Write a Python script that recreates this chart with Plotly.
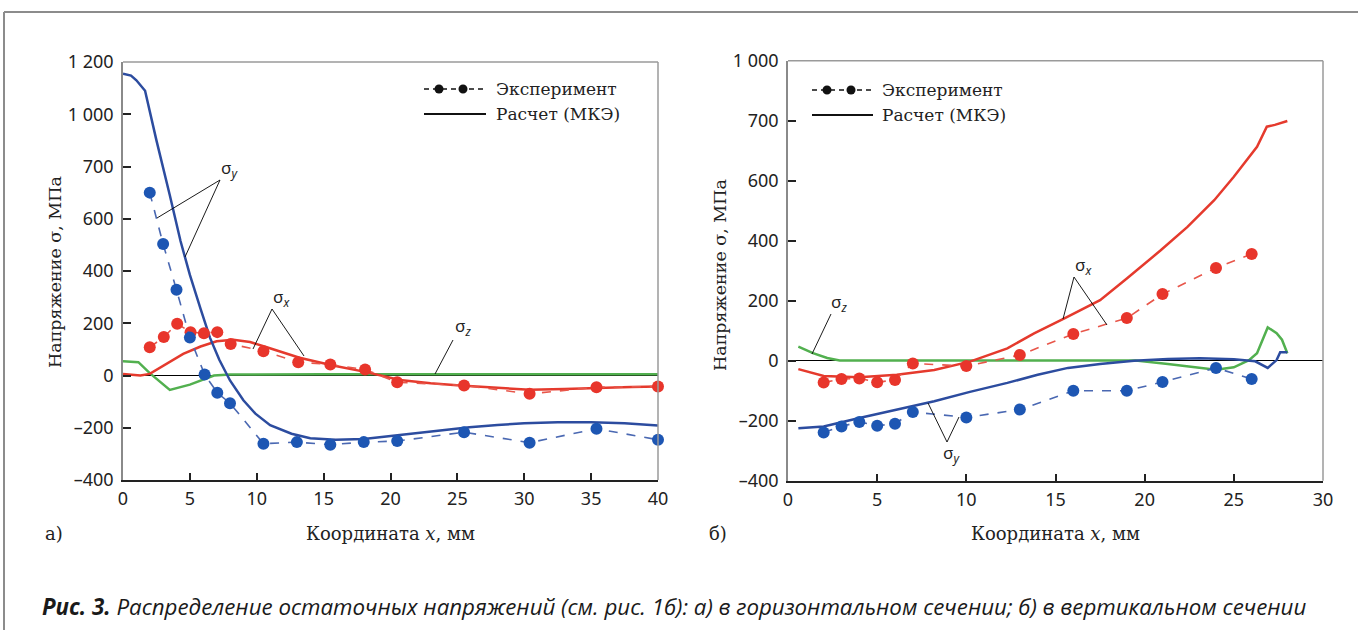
import plotly.graph_objects as go

W, H = 1358, 630

# ---------------- data: panel a (horizontal section) ----------------
a_fem_y_x = [0, 0.6, 1.0, 1.65, 2.5, 3.0, 3.5, 4.3, 5.0, 5.8, 6.5, 7.2, 8.0, 9.0, 9.9, 11.0, 12.6, 14.0, 15.9, 18.0, 20.3, 23.0, 25.9, 28.0, 30.0, 32.5, 35.0, 37.5, 40.0]
a_fem_y_v = [1155, 1148, 1130, 1090, 900, 800, 690, 515, 385, 255, 145, 60, -19, -95, -146, -190, -223, -240, -246, -243, -230, -214, -198, -189, -183, -179, -179, -183, -191]

a_fem_x_x = [0, 1.3, 2, 3.3, 4.5, 5.8, 7, 8.25, 9.5, 10.75, 13.2, 15.7, 18.2, 20.7, 23, 25.2, 28, 30.4, 33, 35.4, 38, 40]
a_fem_x_v = [6, 0, 6, 45, 83, 111, 131, 137, 128, 108, 68, 38, 13, -17, -30, -38, -48, -55, -52, -47, -44, -42]

a_fem_z_x = [0, 1.15, 2, 3.5, 5, 5.8, 6.8, 8, 10, 15, 20, 25, 30, 35, 40]
a_fem_z_v = [55, 51, 9, -55, -35, -19, 0, 4, 5, 5, 5, 5, 5, 5, 5]

a_exp_x = [2, 3.05, 4.05, 5.05, 6.05, 7.05, 8.05, 10.5, 13.1, 15.5, 18.1, 20.5, 25.5, 30.4, 35.4, 40]
a_exp_sx = [108, 147, 198, 166, 162, 166, 121, 93, 51, 42, 23, -26, -38, -70, -45, -42]
a_exp_y_x = [2, 3, 4, 5, 6.1, 7.05, 8, 10.5, 13, 15.5, 18, 20.5, 25.5, 30.4, 35.4, 40]
a_exp_sy = [700, 503, 328, 145, 4, -66, -106, -261, -255, -265, -255, -251, -217, -257, -204, -246]

a_ytickvals = [-400, -200, 0, 200, 400, 600, 800, 1000, 1200]
a_yticktext = ["–400", "–200", "0", "200", "400", "600", "700", "1 000", "1 200"]
a_xtickvals = [0, 5, 10, 15, 20, 25, 30, 35, 40]

# ---------------- data: panel b (vertical section) ----------------
b_fem_x_x = [0.58, 2, 4, 6.1, 8.2, 10.2, 12.3, 13.8, 15.5, 17.5, 19, 20.9, 22.4, 23.9, 25, 26.3, 26.85, 27.3, 28]
b_fem_x_v = [-28, -51, -55, -47, -31, -3, 41, 91, 141, 202, 274, 368, 446, 535, 613, 713, 780, 786, 799]

b_fem_y_x = [0.58, 2, 4, 6.1, 8.2, 10.2, 12.3, 14, 15.7, 17.5, 19.4, 21.3, 23.1, 25, 26.2, 26.9, 27.4, 27.6, 28]
b_fem_y_v = [-225, -219, -191, -163, -135, -104, -74, -47, -24, -11, 0, 6, 8, 5, -2, -24, 2, 28, 28]

b_fem_z_x = [0.58, 1.4, 2.2, 2.9, 5, 10, 15, 19.5, 21.3, 23.1, 24, 25, 25.85, 26.3, 26.9, 27.4, 27.7, 28]
b_fem_z_v = [47, 25, 9, 1, 1, 1, 1, 1, -11, -25, -30, -22, 2, 25, 111, 92, 70, 25]

b_exp_x = [2, 3, 4, 5, 6, 7, 10, 13, 16, 19, 21, 24, 26]
b_exp_sx = [-73, -61, -59, -72, -64, -9, -18, 19, 89, 142, 222, 309, 356]
b_exp_sy = [-239, -219, -204, -217, -210, -171, -189, -163, -100, -100, -71, -24, -61]

b_ytickvals = [-400, -200, 0, 200, 400, 600, 800, 1000]
b_yticktext = ["–400", "–200", "0", "200", "400", "600", "700", "1 000"]
b_xtickvals = [0, 5, 10, 15, 20, 25, 30]

# ---------------- styles ----------------
BLUE_L = "#2c4c9f"
BLUE_D = "#1d56b3"
BLUE_DASH = "#4a68b2"
RED_L = "#e53a2d"
RED_D = "#e8352b"
RED_DASH = "#e8564a"
GREEN = "#52b04f"

TICKFONT = dict(family="Noto Sans", size=18, color="#222")
SERIF = "DejaVu Serif"


def px(x):
    return x / W


def py(y):
    return 1 - y / H


fig = go.Figure()


def add_panel(xa, ya, zx, zv, fx_x, fx_v, fy_x, fy_v, ex_x, ex_sx, ey_x, ey_sy):
    fig.add_trace(go.Scatter(x=zx, y=zv, mode="lines", line=dict(color=GREEN, width=2.5),
                             xaxis=xa, yaxis=ya, showlegend=False, cliponaxis=False))
    fig.add_trace(go.Scatter(x=fx_x, y=fx_v, mode="lines", line=dict(color=RED_L, width=2.5),
                             xaxis=xa, yaxis=ya, showlegend=False, cliponaxis=False))
    fig.add_trace(go.Scatter(x=fy_x, y=fy_v, mode="lines", line=dict(color=BLUE_L, width=2.5),
                             xaxis=xa, yaxis=ya, showlegend=False, cliponaxis=False))
    fig.add_trace(go.Scatter(x=ex_x, y=ex_sx, mode="lines+markers",
                             line=dict(color=RED_DASH, width=1.6, dash="dash"),
                             marker=dict(color=RED_D, size=12),
                             xaxis=xa, yaxis=ya, showlegend=False, cliponaxis=False))
    fig.add_trace(go.Scatter(x=ey_x, y=ey_sy, mode="lines+markers",
                             line=dict(color=BLUE_DASH, width=1.6, dash="dash"),
                             marker=dict(color=BLUE_D, size=12),
                             xaxis=xa, yaxis=ya, showlegend=False, cliponaxis=False))


add_panel("x", "y", a_fem_z_x, a_fem_z_v, a_fem_x_x, a_fem_x_v, a_fem_y_x, a_fem_y_v,
          a_exp_x, a_exp_sx, a_exp_y_x, a_exp_sy)
add_panel("x2", "y2", b_fem_z_x, b_fem_z_v, b_fem_x_x, b_fem_x_v, b_fem_y_x, b_fem_y_v,
          b_exp_x, b_exp_sx, b_exp_x, b_exp_sy)

xcommon = dict(showgrid=False, zeroline=False, showline=True, linecolor="#222", linewidth=1.5,
               ticks="inside", ticklen=7, tickwidth=1.5, tickcolor="#222", tickfont=TICKFONT,
               ticklabelstandoff=2, automargin=False)
ycommon = dict(showgrid=False, zeroline=True, zerolinecolor="#000", zerolinewidth=1,
               showline=True, linecolor="#8a8a8a", linewidth=1.5,
               ticks="inside", ticklen=8, tickwidth=1.5, tickcolor="#222", tickfont=TICKFONT,
               ticklabelstandoff=4, automargin=False)

a_box = (123, 658, 62, 480)
b_box = (788, 1323, 60.7, 480.7)

fig.update_layout(
    template="none",
    width=W, height=H, margin=dict(l=0, r=0, t=0, b=0, pad=0), autosize=False,
    paper_bgcolor="white", plot_bgcolor="white",
    xaxis=dict(xcommon, domain=[px(a_box[0]), px(a_box[1])], range=[0, 40],
               tickvals=a_xtickvals, anchor="y"),
    yaxis=dict(ycommon, domain=[py(a_box[3]), py(a_box[2])], range=[-400, 1200],
               tickvals=a_ytickvals, ticktext=a_yticktext, anchor="x"),
    xaxis2=dict(xcommon, domain=[px(b_box[0]), px(b_box[1])], range=[0, 30],
                tickvals=b_xtickvals, anchor="y2"),
    yaxis2=dict(ycommon, domain=[py(b_box[3]), py(b_box[2])], range=[-400, 1000],
                tickvals=b_ytickvals, ticktext=b_yticktext, anchor="x2"),
)

shapes = []
GREY = "#9a9a9a"


def seg(x0, y0, x1, y1, color="#000", width=1, dash=None):
    d = dict(type="line", xref="paper", yref="paper", x0=px(x0), y0=py(y0), x1=px(x1), y1=py(y1),
             line=dict(color=color, width=width))
    if dash:
        d["line"]["dash"] = dash
    shapes.append(d)


def dot(cx, cy, r=4.5):
    shapes.append(dict(type="circle", xref="paper", yref="paper",
                       x0=px(cx - r), x1=px(cx + r), y0=py(cy + r), y1=py(cy - r),
                       fillcolor="#111", line=dict(color="#111", width=0)))


# outer frame
seg(4, 12, W, 12, color="#8c8c8c", width=2)
seg(4, 12, 4, H, color="#8c8c8c", width=2)

# top/right borders of plot boxes
for (l, r, t, b) in (a_box, b_box):
    seg(l, t, r, t, color=GREY, width=1.5)
    seg(r, t, r, b, color=GREY, width=1.5)

# legends
for (lx0, lx1, d1, d2, ty1, ty2) in ((424, 486, 439, 463, 89, 114), (812, 873, 827, 851, 90, 115)):
    seg(lx0, ty1, lx1, ty1, color="#111", width=1.5, dash="5px,4px")
    dot(d1, ty1)
    dot(d2, ty1)
    seg(lx0, ty2, lx1, ty2, color="#111", width=2)

# sigma leader lines
# panel a
seg(220, 180, 157, 218, width=0.9)
seg(220, 180, 185, 257, width=0.9)
seg(272, 309, 253, 349, width=0.9)
seg(272, 309, 304, 356, width=0.9)
seg(453, 340, 435, 374, width=0.9)
# panel b
seg(1074, 277, 1063, 319, width=0.9)
seg(1074, 277, 1107, 325, width=0.9)
seg(831, 314, 812, 354, width=0.9)
seg(947, 442, 928, 403, width=0.9)
seg(947, 442, 959, 417, width=0.9)

fig.update_layout(shapes=shapes)

ann = []


def text(x, y, s, size=17, family=SERIF, xanchor="center", angle=0, color="#222"):
    ann.append(dict(x=px(x), y=py(y), xref="paper", yref="paper", text=s, showarrow=False,
                    xanchor=xanchor, yanchor="middle", textangle=angle,
                    font=dict(family=family, size=size, color=color)))


# legend texts
text(494, 89, "Эксперимент", size=17, xanchor="left")
text(494, 114, "Расчет (МКЭ)", size=17, xanchor="left")
text(880, 90, "Эксперимент", size=17, xanchor="left")
text(880, 115, "Расчет (МКЭ)", size=17, xanchor="left")

# axis titles
text(55, 272, "Напряжение σ, МПа", size=17.5, angle=-90)
text(720, 275, "Напряжение σ, МПа", size=17.5, angle=-90)
text(391, 533, "Координата <i>x</i>, мм", size=18)
text(1055, 533, "Координата <i>x</i>, мм", size=18)
text(43, 533, "а)", size=18, xanchor="left")
text(707, 533, "б)", size=18, xanchor="left")

# sigma labels
SIG = "Noto Sans"
text(229, 169, "σ<sub><i>y</i></sub>", size=17, family=SIG)
text(281, 297, "σ<sub><i>x</i></sub>", size=17, family=SIG)
text(463, 326, "σ<sub><i>z</i></sub>", size=17, family=SIG)
text(1083, 265, "σ<sub><i>x</i></sub>", size=17, family=SIG)
text(839, 302, "σ<sub><i>z</i></sub>", size=17, family=SIG)
text(952, 453, "σ<sub><i>y</i></sub>", size=17, family=SIG)

# caption
text(40, 606, "<b><i>Рис. 3.</i></b><i> Распределение остаточных напряжений (см. рис. 1б): "
              "а) в горизонтальном сечении; б) в вертикальном сечении</i>",
     size=22.3, family="Open Sans", xanchor="left", color="#1a1a1a")

fig.update_layout(annotations=ann)

fig.write_html("out.html", config={"displayModeBar": False},
               post_script="document.body.style.margin='0px';document.body.style.overflow='hidden';")
